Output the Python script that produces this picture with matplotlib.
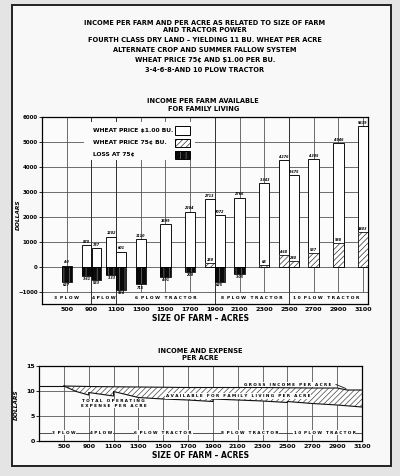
import numpy as np
import matplotlib.pyplot as plt
from matplotlib.patches import Rectangle
from collections import Counter

plt.rcParams['font.family'] = ['DejaVu Sans']
plt.rcParams['font.weight'] = 'bold'
plt.rcParams['hatch.linewidth'] = 0.5

# x-axis categories (acres)
size_ticks = [500, 900, 1100, 1300, 1500, 1700, 1900, 2100, 2300, 2500, 2700, 2900, 3100]

# income per farm available for family living
farm_size = [500, 900, 900, 1100, 1100, 1300, 1500, 1700, 1900, 1900, 2100, 2300, 2500, 2500, 2700, 2900, 3100]
tractor_plows = [3, 3, 4, 4, 6, 6, 6, 6, 6, 8, 8, 8, 8, 10, 10, 10, 10]
income_100 = [40, 870, 737, 1202, 601, 1110, 1699, 2204, 2713, 2072, 2766, 3343, 4276, 3675, 4305, 4946, 5639]
income_75 = [-627, -361, -533, -333, -934, -715, -401, -200, 150, -625, -305, 68, 468, 240, 537, 938, 1403]

tractor_names = {3: '3  P L O W', 4: '4 P L O W', 6: '6  P L O W   T R A C T O R',
                 8: '8  P L O W   T R A C T O R', 10: '1 0  P L O W   T R A C T O R'}

# income and expense per acre
gross_size = [500, 900, 1100, 1300, 1500, 1700, 1900, 2100, 2300, 2500, 2700, 2900, 2980, 3100]
gross_per_acre = [11.0, 10.9, 10.85, 10.8, 10.75, 10.7, 10.7, 10.7, 10.7, 10.65, 10.6, 10.6, 10.2, 10.2]
exp_size = [500, 700, 900, 900, 1100, 1100, 1300, 1500, 1700, 1900, 1900, 2100, 2300, 2500, 2500, 2700, 2900, 3100]
exp_per_acre = [11.0, 9.9, 9.2, 9.7, 9.0, 9.9, 8.7, 8.4, 8.2, 7.9, 8.4, 8.2, 8.0, 7.7, 7.9, 7.5, 7.2, 6.8]

title_lines = ['INCOME PER FARM AND PER ACRE AS RELATED TO SIZE OF FARM',
               'AND TRACTOR POWER',
               'FOURTH CLASS DRY LAND \u2013 YIELDING 11 BU. WHEAT PER ACRE',
               'ALTERNATE CROP AND SUMMER FALLOW SYSTEM',
               'WHEAT PRICE 75\u00a2 AND $1.00 PER BU.',
               '3-4-6-8-AND 10 PLOW TRACTOR']


def to_idx(sizes):
    return np.interp(sizes, size_ticks, np.arange(len(size_ticks)))


fig = plt.figure(figsize=(4, 4.76), dpi=100)
fig.patch.set_facecolor('#e4e4e4')
fig.patches.append(Rectangle((0.03, 0.021), 0.9475, 0.9685, transform=fig.transFigure,
                             facecolor='#f8f8f8', edgecolor='#222222', lw=1.4, zorder=-10))

title_y = [0.951, 0.937, 0.915, 0.894, 0.873, 0.852]
for t, y in zip(title_lines, title_y):
    fig.text(0.512, y, t, ha='center', va='center', fontsize=4.8, fontweight='bold')

fig.text(0.508, 0.788, 'INCOME PER FARM AVAILABLE', ha='center', va='center', fontsize=4.8, fontweight='bold')
fig.text(0.508, 0.772, 'FOR FAMILY LIVING', ha='center', va='center', fontsize=4.8, fontweight='bold')

# ---- upper chart
ax = fig.add_axes([0.105, 0.3613, 0.815, 0.393])
ax.set_facecolor('#fbfbfb')
x_left, x_right = -1, 12.2
ax.set_xlim(x_left, x_right)
ax.set_ylim(-1500, 6000)
ax.set_xticks(range(len(size_ticks)))
ax.set_xticklabels(size_ticks)
ax.set_yticks(range(-1000, 6001, 1000))
ax.tick_params(axis='x', length=0, labelsize=4.6, pad=2)
ax.tick_params(axis='y', length=2, labelsize=4, pad=1, width=0.6)
for s in ax.spines.values():
    s.set_linewidth(0.9)

for y in range(-1000, 6001, 1000):
    ax.axhline(y, color='#555555', lw=0.6, zorder=1)
ax.vlines(range(len(size_ticks)), -1000, 6000, color='#555555', lw=0.6, zorder=1)

# tractor bands
plow_types = sorted(set(tractor_plows))
bounds = []
for i, p in enumerate(plow_types):
    sz = [s for s, q in zip(farm_size, tractor_plows) if q == p]
    lo = x_left if i == 0 else to_idx(min(sz))
    hi = to_idx(max(sz)) if i < len(plow_types) - 1 else len(size_ticks) - 1
    bounds.append((p, lo, hi))
ax.vlines([b[2] for b in bounds[:-1]], -1500, 6000, color='#333333', lw=0.7, zorder=1)
for p, lo, hi in bounds:
    ax.text((lo + hi) / 2, -1250, tractor_names[p], ha='center', va='center', fontsize=3.2)

# bars
counts = Counter(farm_size)
seen = Counter()
for s, v100, v75 in zip(farm_size, income_100, income_75):
    xi = size_ticks.index(s)
    if counts[s] > 1:
        off = -0.2 if seen[s] == 0 else 0.2
        w = 0.38
    else:
        off = 0
        w = 0.42
    seen[s] += 1
    x = xi + off
    ax.bar(x, v100, width=w, color='white', edgecolor='#111111', lw=0.7, zorder=3)
    ax.text(x, v100 + 50, f'{v100}', ha='center', va='bottom', fontsize=2.4, style='italic', zorder=6)
    if v75 >= 0:
        ax.bar(x, v75, width=w, color='white', edgecolor='#333333', hatch='//////', lw=0, zorder=4)
        ax.bar(x, v75, width=w, fill=False, edgecolor='#111111', lw=0.6, zorder=4)
        ax.text(x, v75 + 40, f'{v75}', ha='center', va='bottom', fontsize=2.4, style='italic', zorder=6)
    else:
        ax.bar(x, v75, width=w, color='#0a0a0a', edgecolor='#777777', hatch='|||', lw=0, zorder=3)
        ax.bar(x, v75, width=w, fill=False, edgecolor='#000000', lw=0.6, zorder=4)
        ax.text(x, v75 - 50, f'{-v75}', ha='center', va='top', fontsize=2.4, style='italic', zorder=6)

# legend
ax.add_patch(Rectangle((0.13, 0.77), 0.34, 0.205, transform=ax.transAxes,
                       facecolor='#fbfbfb', edgecolor='none', zorder=2))
leg_rows = [('WHEAT PRICE $1.00 BU.', 'white', None, '#111111'),
            ('WHEAT PRICE 75\u00a2 BU.', 'white', '//////', '#333333'),
            ('LOSS AT 75\u00a2', '#0a0a0a', '|||', '#777777')]
for (lbl, fc, hatch, hc), y in zip(leg_rows, [0.930, 0.861, 0.797]):
    ax.text(0.156, y, lbl, transform=ax.transAxes, ha='left', va='center', fontsize=4.3, zorder=5)
    ax.add_patch(Rectangle((0.408, y - 0.024), 0.046, 0.046, transform=ax.transAxes,
                           facecolor=fc, edgecolor=hc, hatch=hatch, lw=0, zorder=5))
    ax.add_patch(Rectangle((0.408, y - 0.024), 0.046, 0.046, transform=ax.transAxes,
                           fill=False, edgecolor='black', lw=0.7, zorder=5))

fig.text(0.046, 0.548, 'DOLLARS', rotation=90, ha='center', va='center', fontsize=4.2, style='italic')
fig.text(0.5, 0.330, 'SIZE OF FARM \u2013 ACRES', ha='center', va='center', fontsize=5.5)

# ---- lower chart
fig.text(0.5, 0.2633, 'INCOME AND EXPENSE', ha='center', va='center', fontsize=4.8)
fig.text(0.5, 0.2473, 'PER ACRE', ha='center', va='center', fontsize=4.8)

bx = fig.add_axes([0.0975, 0.0735, 0.8075, 0.1576])
bx.set_facecolor('#fbfbfb')
bx.set_xlim(-1, 12)
bx.set_ylim(0, 15)
bx.set_xticks(range(len(size_ticks)))
bx.set_xticklabels(size_ticks)
bx.set_yticks([0, 5, 10, 15])
bx.tick_params(axis='x', length=0, labelsize=4.6, pad=2)
bx.tick_params(axis='y', length=2, labelsize=4.5, pad=1, width=0.6)
for s in bx.spines.values():
    s.set_linewidth(0.9)
for y in [5, 10]:
    bx.axhline(y, color='#555555', lw=0.6, zorder=1)
bx.vlines(range(len(size_ticks) - 1), 0, 15, color='#555555', lw=0.6, zorder=1)

gx = to_idx(gross_size)
ex = to_idx(exp_size)
bx.fill(np.concatenate([gx, ex[::-1]]), np.concatenate([gross_per_acre, exp_per_acre[::-1]]),
        facecolor='white', edgecolor='#444444', hatch='//////', lw=0, zorder=2)
bx.plot(gx, gross_per_acre, color='#111111', lw=0.8, zorder=3)
bx.plot(ex, exp_per_acre, color='#111111', lw=0.8, zorder=3)
bx.plot([-1, gx[0]], [gross_per_acre[0]] * 2, color='#111111', lw=0.8, zorder=3)

bbox = dict(facecolor='#fbfbfb', edgecolor='none', pad=0.4)
bx.text(9.0, 11.3, 'G R O S S   I N C O M E   P E R   A C R E', ha='center', va='center',
        fontsize=3.0, bbox=bbox, zorder=5)
bx.plot([10.95, 11.35], [11.3, 10.5], color='#111111', lw=0.6, zorder=5)
bx.text(7.0, 9.0, 'A V A I L A B L E   F O R   F A M I L Y   L I V I N G   P E R   A C R E', ha='center',
        va='center', fontsize=3.0, bbox=bbox, zorder=5)
bx.text(2.0, 7.5, 'T O T A L   O P E R A T I N G\nE X P E N S E   P E R   A C R E', ha='center',
        va='center', fontsize=3.0, linespacing=1.1, bbox=bbox, zorder=5)

bx.axhline(1.7, color='#333333', lw=0.6, zorder=2)
for p, lo, hi in bounds:
    bx.text((max(lo, -1) + hi) / 2, 1.7, tractor_names[p], ha='center', va='center',
            fontsize=3.0, bbox=bbox, zorder=5)

fig.text(0.040, 0.15, 'DOLLARS', rotation=90, ha='center', va='center', fontsize=4.2, style='italic')
fig.text(0.5, 0.043, 'SIZE OF FARM \u2013 ACRES', ha='center', va='center', fontsize=5.5)

fig.savefig('out.png', dpi=100, facecolor=fig.get_facecolor())
